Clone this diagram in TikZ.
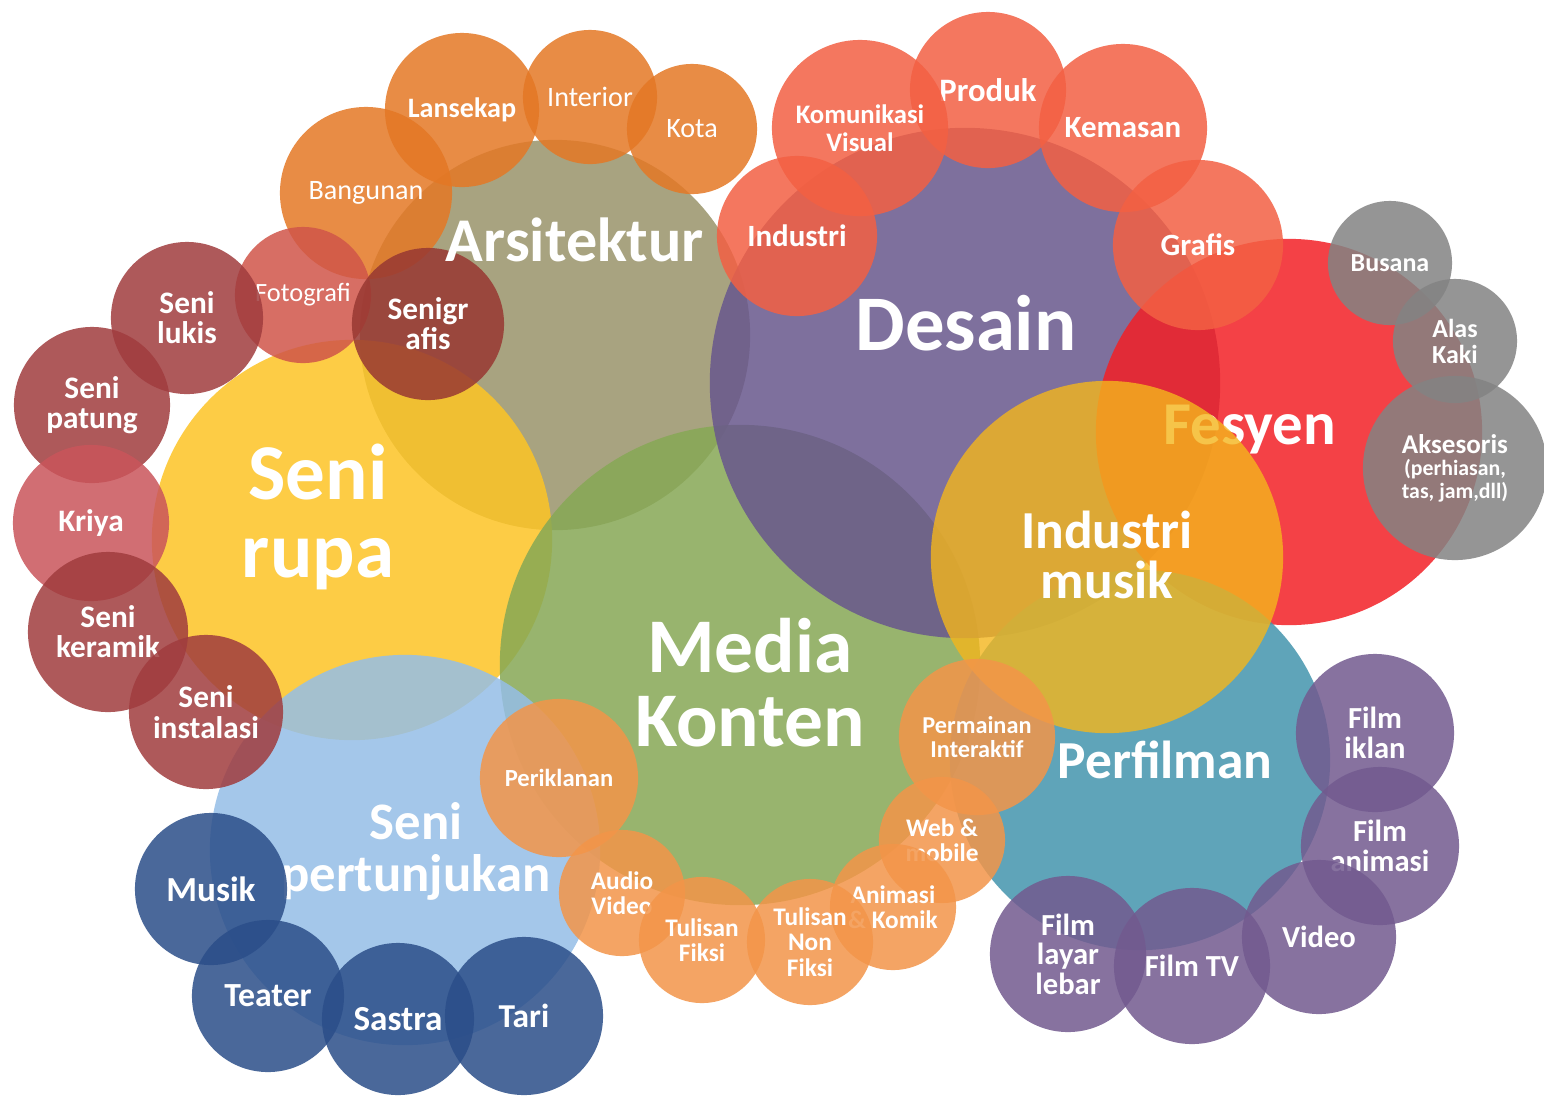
\documentclass[tikz,border=0pt]{standalone}
\usepackage{fontspec}
\setmainfont{Carlito}
\definecolor{arsicol}{RGB}{153,148,106}
\definecolor{rupacol}{RGB}{253,196,37}
\definecolor{mediacol}{RGB}{134,168,85}
\definecolor{tunjukcol}{RGB}{149,190,231}
\definecolor{desaincol}{RGB}{104,87,141}
\definecolor{fesyencol}{RGB}{243,32,38}
\definecolor{filmcol}{RGB}{67,149,173}
\definecolor{musikcol}{RGB}{244,182,28}
\definecolor{arsismall}{RGB}{228,120,37}
\definecolor{fotocol}{RGB}{208,85,73}
\definecolor{grafcol}{RGB}{152,56,50}
\definecolor{desainsmall}{RGB}{243,96,67}
\definecolor{greycol}{RGB}{131,131,131}
\definecolor{rupasmall}{RGB}{160,60,62}
\definecolor{kriyacol}{RGB}{202,85,91}
\definecolor{mediasmall}{RGB}{243,149,73}
\definecolor{tunjuksmall}{RGB}{43,78,137}
\definecolor{filmsmall}{RGB}{114,90,143}
\definecolor{cream}{RGB}{255,240,222}

\begin{document}
\begin{tikzpicture}[x=0.01cm, y=-0.01cm,
	bubble/.style={circle, inner sep=0pt, minimum size=#1*0.02cm, fill opacity=0.85, text opacity=1, text=white, align=center},
	fs/.style 2 args={font=\fontsize{#1}{#2}\selectfont\bfseries},
	fr/.style 2 args={font=\fontsize{#1}{#2}\selectfont},
	title/.style={text=white, align=center}]
	\path[use as bounding box, fill=white] (0,0) rectangle (1544,1096);

	% big circles
	\node[bubble=195, fill=arsicol] (arsitektur) at (555,335) {};
	\node[bubble=200, fill=rupacol] (senirupa) at (352,540) {};
	\node[title, fs={22.5}{22}] (senirupa-t) at (318,517) {Seni\\rupa};
	\node[bubble=240, fill=mediacol] (media) at (740,665) {};
	\node[bubble=195, fill=tunjukcol] (pertunjukan) at (405,850) {};
	\node[title, fs={15}{14.8}] (pertunjukan-t) at (416,851) {Seni\\pertunjukan};
	\node[bubble=255, fill=desaincol] (desain) at (965,383) {};
	\node[title, fs={22.4}{22}] (desain-t) at (966,323) {Desain};
	\node[bubble=193, fill=fesyencol] (fesyen) at (1289,432) {};
	\node[title, fs={17.3}{17}] (fesyen-t) at (1250,430) {Fesyen};
	\node[bubble=190, fill=filmcol] (perfilman) at (1140,760) {};
	\node[title, fs={15.2}{15}] (perfilman-t) at (1165,760) {Perfilman};
	\node[bubble=176, fill=musikcol, fill opacity=0.8] (industrimusik) at (1107,557) {};
	\node[title, fs={15.2}{14}] (industrimusik-t) at (1107,555) {Industri\\musik};
	\node[title, fs={22}{21}] (media-t) at (750,683) {Media\\Konten};

	\begin{scope}[every node/.append style={fill=arsismall, fr={8}{8}, text=cream}]
		\node[bubble=86] (bangunan) at (366,193) {Bangunan};
		\node[bubble=77, fs={8}{8}, text=white] (lansekap) at (462,110) {Lansekap};
		\node[bubble=67] (interior) at (590,97) {Interior};
		\node[bubble=65] (kota) at (692,129) {Kota};
	\end{scope}

	\begin{scope}[every node/.append style={fill=rupasmall, fs={8.9}{8.6}}]
		\node[bubble=68, fill=fotocol, fr={7.5}{8}] (fotografi) at (303,295) {Fotografi};
		\node[bubble=76] (senilukis) at (187,318) {Seni\\lukis};
		\node[bubble=76, fill=grafcol] (senigrafis) at (428,324) {Senigr\\afis};
		\node[bubble=78] (senipatung) at (92,405) {Seni\\patung};
		\node[bubble=78, fill=kriyacol] (kriya) at (91,523) {Kriya};
		\node[bubble=80] (senikeramik) at (108,632) {Seni\\keramik};
		\node[bubble=77] (seniinstalasi) at (206,712) {Seni\\instalasi};
	\end{scope}
	\node[title, fs={17.7}{18}] (arsitektur-t) at (575,240) {Arsitektur};

	\begin{scope}[every node/.append style={fill=desainsmall, fs={8.8}{8}}]
		\node[bubble=78, fs={9.3}{9}] (produk) at (988,90) {Produk};
		\node[bubble=88, fs={7.6}{8}] (komunikasi) at (860,128) {Komunikasi\\Visual};
		\node[bubble=84] (kemasan) at (1123,128) {Kemasan};
		\node[bubble=80] (industri) at (797,236) {Industri};
		\node[bubble=85] (grafis) at (1198,245) {Grafis};
	\end{scope}

	\begin{scope}[every node/.append style={fill=greycol, fs={7.4}{7.4}}]
		\node[bubble=62] (busana) at (1390,263) {Busana};
		\node[bubble=62] (alaskaki) at (1455,341) {Alas\\Kaki};
		\node[bubble=92, fs={6.2}{6.4}] (aksesoris) at (1455,468) {{\fontsize{7.7}{8}\selectfont Aksesoris}\\(perhiasan,\\tas, jam,dll)};
	\end{scope}

	\begin{scope}[every node/.append style={fill=mediasmall, fs={7.2}{7.2}}]
		\node[bubble=79, fs={7}{7}] (periklanan) at (559,778) {Periklanan};
		\node[bubble=78, fs={6.9}{6.6}] (permainan) at (977,737) {Permainan\\Interaktif};
		\node[bubble=63] (webmobile) at (942,840) {Web \&\\mobile};
		\node[bubble=63] (animasi) at (893,907) {Animasi\\\& Komik};
		\node[bubble=63] (audiovideo) at (622,893) {Audio\\Video};
		\node[bubble=63] (fiksi) at (702,940) {Tulisan\\Fiksi};
		\node[bubble=63] (nonfiksi) at (810,942) {Tulisan\\Non\\Fiksi};
	\end{scope}

	\begin{scope}[every node/.append style={fill=tunjuksmall, fs={10}{10}}]
		\node[bubble=76] (musik) at (211,889) {Musik};
		\node[bubble=76, fs={9.6}{9.6}] (teater) at (268,996) {Teater};
		\node[bubble=76] (sastra) at (398,1019) {Sastra};
		\node[bubble=79, fs={9.5}{9.5}] (tari) at (524,1016) {Tari};
	\end{scope}

	\begin{scope}[every node/.append style={fill=filmsmall, fs={8.7}{8.4}}]
		\node[bubble=79] (filmiklan) at (1375,733) {Film\\iklan};
		\node[bubble=79] (filmanimasi) at (1380,846) {Film\\animasi};
		\node[bubble=77] (video) at (1319,937) {Video};
		\node[bubble=78] (filmtv) at (1192,966) {Film TV};
		\node[bubble=78] (filmlayar) at (1068,954) {Film\\layar\\lebar};
	\end{scope}
\end{tikzpicture}
\end{document}
